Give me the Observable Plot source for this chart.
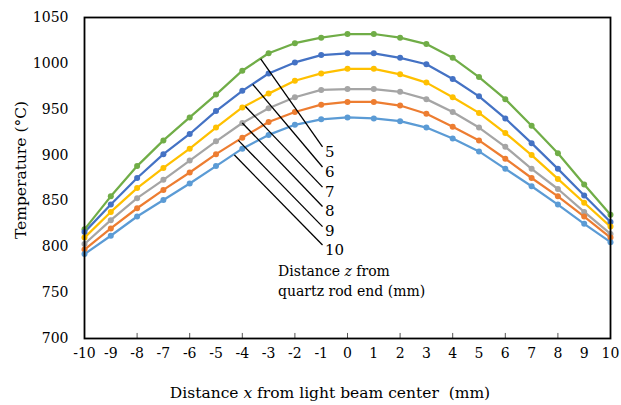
<!DOCTYPE html>
<html><head><meta charset="utf-8">
<script src="https://cdn.jsdelivr.net/npm/d3@7"></script>
<script src="https://cdn.jsdelivr.net/npm/@observablehq/plot@0.6"></script>
<style>body{margin:0;background:#fff} svg{display:block} svg text{font-family:"DejaVu Serif",serif !important}</style>
</head><body><div id="chart"></div>
<script>
const xValues = [-10,-9,-8,-7,-6,-5,-4,-3,-2,-1,0,1,2,3,4,5,6,7,8,9,10];
const seriesNames = ["5","6","7","8","9","10"];
const temps5  = [819,855,888,916,941,966,992,1011,1022,1028,1032,1032,1028,1021,1006,985,961,932,902,868,835];
const temps6  = [816,846,875,901,923,948,970,989,1001,1009,1011,1011,1006,999,983,964,940,913,885,856,827];
const temps7  = [810,838,864,886,907,930,952,967,981,989,994,994,988,979,963,946,924,900,874,848,822];
const temps8  = [803,829,853,873,894,915,935,951,963,971,972,972,969,961,947,930,909,885,863,838,814];
const temps9  = [797,820,842,862,881,901,919,936,947,955,958,958,954,945,931,916,896,875,855,833,810];
const temps10 = [792,812,833,851,869,888,907,922,933,939,941,940,937,930,918,904,885,866,846,825,805];
const seriesColors = ["#70AD47","#4472C4","#FFC000","#A5A5A5","#ED7D31","#5B9BD5"];
const yTicks = [700,750,800,850,900,950,1000,1050];
const evenTicks = [-8,-6,-4,-2,0,2,4,6,8];
// leader lines for the z labels: anchor on curve (x, temperature) and end point
const leaderStartX = [-3.3,-3.6,-3.88,-4.0,-4.15,-4.3];
const leaderStartY = [1005,977,953,935,916,900];
const leaderEndX = -0.95;
const leaderEndY = [909,887,865,844,822,802];
const labelX = -0.86;

const allSeries = [temps5,temps6,temps7,temps8,temps9,temps10];
const data = [];
seriesNames.forEach((s,i)=>xValues.forEach((x,j)=>data.push({s, x, t: allSeries[i][j]})));
const ann = seriesNames.map((s,i)=>({label:s, x0:leaderStartX[i], y0:leaderStartY[i], x1:leaderEndX, y1:leaderEndY[i], tx:labelX}));

const font = "'DejaVu Serif', serif";
const plot = Plot.plot({
  width:621, height:405,
  marginLeft:84, marginRight:11, marginTop:17, marginBottom:67,
  style:{fontFamily:font, fontSize:"14px", color:"#000", background:"#fff", overflow:"visible"},
  x:{domain:[-10,10]},
  y:{domain:[700,1050]},
  color:{domain:seriesNames, range:seriesColors},
  marks:[
    Plot.axisY({ticks:yTicks, tickSize:0, tickPadding:16, label:null, fontSize:14, tickFormat:d=>String(d)}),
    Plot.axisX({ticks:xValues, tickSize:0, tickPadding:10, label:null, fontSize:14, tickFormat:d=>String(d)}),
    Plot.ruleX(evenTicks, {x:d=>d, y1:700, y2:705.5, stroke:"#555", strokeWidth:1}),
    Plot.line(data,{x:"x", y:"t", z:"s", stroke:"s", strokeWidth:2.25}),
    Plot.dot(data,{x:"x", y:"t", fill:"s", r:3}),
    Plot.link(ann,{x1:"x0", y1:"y0", x2:"x1", y2:"y1", stroke:"#000", strokeWidth:1.3}),
    Plot.text(ann,{x:"tx", y:"y1", text:"label", textAnchor:"start", dy:5, fontSize:15, fill:"#000"}),
    Plot.frame({stroke:"#000", strokeWidth:1.8})
  ]
});
document.getElementById("chart").appendChild(plot);

const svg = d3.select(plot);
const xt = svg.append("text").attr("x",330).attr("y",398).attr("text-anchor","middle")
  .attr("font-size",15.5).attr("fill","#000");
xt.append("tspan").text("Distance ");
xt.append("tspan").attr("font-style","italic").text("x");
xt.append("tspan").attr("xml:space","preserve").text(" from light beam center  (mm)");

svg.append("text").attr("transform","translate(21,170) rotate(-90)")
  .attr("text-anchor","middle").attr("dominant-baseline","central")
  .attr("font-size",15.5).attr("fill","#000")
  .text("Temperature (°C)");

const c1 = svg.append("text").attr("x",278).attr("y",276).attr("text-anchor","start")
  .attr("font-size",14).attr("fill","#000");
c1.append("tspan").text("Distance ");
c1.append("tspan").attr("font-style","italic").text("z");
c1.append("tspan").text(" from");
svg.append("text").attr("x",278).attr("y",296).attr("text-anchor","start")
  .attr("font-size",14).attr("fill","#000")
  .text("quartz rod end (mm)");
</script>
</body></html>
